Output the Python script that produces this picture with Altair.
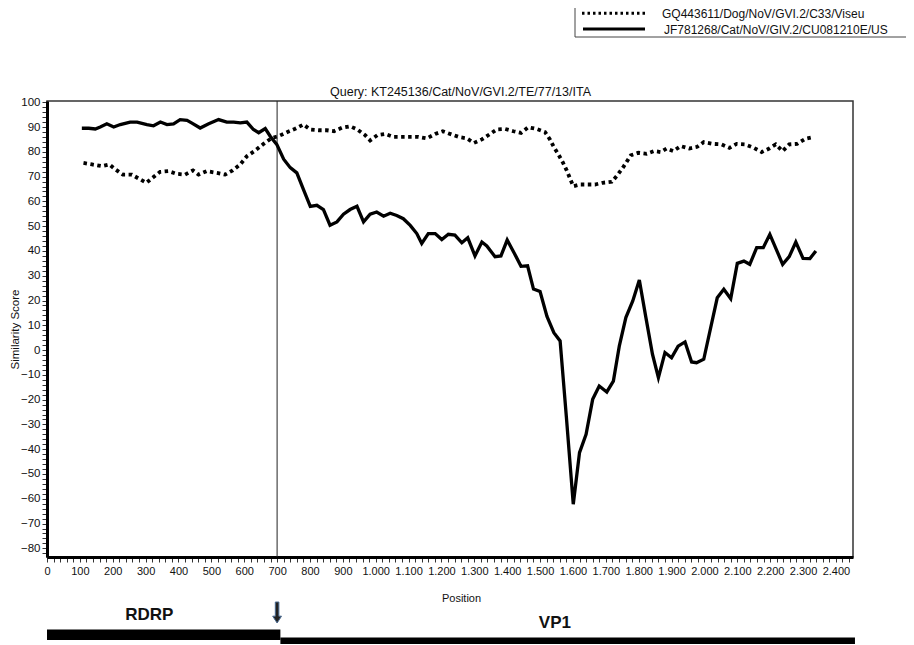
import altair as alt
import pandas as pd

FONT = "Liberation Sans"
title_text = "Query: KT245136/Cat/NoV/GVI.2/TE/77/13/ITA"
series_names = ["GQ443611/Dog/NoV/GVI.2/C33/Viseu", "JF781268/Cat/NoV/GIV.2/CU081210E/US"]

dog_pos = [111, 137, 167, 190, 208, 231, 258, 279, 302, 324, 344, 370, 395, 420, 444, 461, 486, 517, 542, 565,
           588, 608, 633, 659, 684, 704, 730, 755, 780, 801, 826, 851, 873, 897, 922, 944, 968, 983, 1005, 1029,
           1054, 1079, 1105, 1130, 1155, 1181, 1204, 1231, 1255, 1277, 1299, 1323, 1346, 1368, 1394, 1419, 1442,
           1464, 1490, 1515, 1530, 1542, 1556, 1569, 1581, 1601, 1622, 1647, 1667, 1690, 1718, 1733, 1753, 1776,
           1799, 1824, 1847, 1867, 1885, 1905, 1928, 1954, 1978, 1998, 2025, 2052, 2076, 2098, 2123, 2150, 2174,
           2197, 2217, 2238, 2258, 2282, 2306, 2331]
dog_score = [75.5, 74.9, 74.2, 74.9, 72.9, 70.8, 70.8, 69.2, 67.5, 69.8, 71.9, 72.2, 71.1, 70.8, 72.5, 70.8, 72.2,
             71.5, 70.8, 72.5, 74.9, 78.2, 80.5, 83.2, 85.6, 86.3, 87.9, 89.3, 91.0, 89.0, 88.7, 88.7, 88.3, 89.7,
             90.3, 89.0, 86.7, 84.6, 86.7, 87.2, 86.0, 86.0, 86.0, 86.0, 85.4, 87.2, 88.3, 87.0, 85.9, 85.4, 83.6,
             85.0, 87.0, 89.0, 89.2, 88.3, 87.6, 89.9, 89.2, 88.0, 85.0, 81.9, 78.9, 75.8, 72.5, 66.1, 66.8, 66.8,
             66.8, 67.5, 67.9, 70.2, 73.8, 78.6, 79.6, 79.2, 80.3, 79.9, 81.3, 80.3, 82.3, 81.3, 82.0, 83.9, 83.2,
             83.0, 81.6, 83.2, 83.0, 81.6, 79.9, 81.3, 83.0, 80.3, 83.0, 83.2, 85.2, 85.9]

cat_pos = [106, 127, 147, 162, 182, 203, 223, 253, 274, 304, 324, 345, 365, 385, 405, 426, 441, 466, 492, 522,
           547, 568, 588, 608, 628, 644, 664, 679, 699, 720, 740, 760, 780, 801, 821, 841, 861, 882, 902, 922,
           943, 963, 983, 1003, 1024, 1044, 1064, 1084, 1105, 1125, 1140, 1160, 1181, 1201, 1221, 1241, 1262,
           1280, 1302, 1323, 1338, 1363, 1381, 1400, 1422, 1442, 1462, 1480, 1500, 1521, 1542, 1561, 1580, 1601,
           1620, 1640, 1660, 1680, 1703, 1723, 1741, 1761, 1782, 1802, 1822, 1842, 1860, 1880, 1900, 1920, 1941,
           1961, 1976, 1998, 2039, 2059, 2080, 2100, 2120, 2138, 2159, 2179, 2199, 2238, 2258, 2278, 2300, 2321,
           2339]
cat_score = [89.5, 89.5, 89.2, 90.0, 91.3, 90.0, 91.0, 92.0, 92.0, 91.0, 90.5, 92.0, 91.0, 91.3, 93.0, 92.7, 91.6,
             89.6, 91.3, 93.0, 92.0, 92.0, 91.7, 92.0, 89.0, 87.7, 89.4, 86.3, 83.0, 77.0, 73.6, 71.5, 64.8, 58.0,
             58.4, 56.7, 50.4, 51.7, 54.8, 56.7, 58.0, 51.7, 54.8, 55.7, 54.0, 55.2, 54.3, 53.0, 50.3, 47.0, 43.0,
             47.0, 47.0, 44.6, 46.7, 46.4, 43.3, 45.3, 38.0, 43.6, 42.0, 37.7, 38.0, 44.4, 39.0, 33.8, 34.0, 24.6,
             23.6, 13.6, 7.0, 3.7, -27.0, -62.2, -41.4, -34.0, -19.9, -14.5, -16.9, -12.5, 1.6, 13.1, 19.8, 28.3,
             13.1, -1.7, -11.1, -1.0, -3.1, 1.6, 3.3, -4.8, -5.1, -3.7, 21.1, 24.5, 20.7, 35.0, 35.9, 34.6, 41.3,
             41.3, 46.7, 34.6, 37.7, 43.6, 37.0, 36.9, 40.0]

junction_pos = [700]
gene_names = ["RDRP", "VP1"]
gene_start = [0, 710]
gene_end = [710, 2458]
gene_label_pos = [311, 1545]

x_domain = [0, 2452]
y_domain = [-83.5, 100.5]
x_tick_values = list(range(0, 2441, 20))
y_tick_values = list(range(-82, 101, 2))

dog_df = pd.DataFrame({"pos": dog_pos, "score": dog_score})
cat_df = pd.DataFrame({"pos": cat_pos, "score": cat_score})
junction_df = pd.DataFrame({"pos": junction_pos})
bars_df = pd.DataFrame({"gene": gene_names, "pos": gene_start, "pos_end": gene_end})
labels_df = pd.DataFrame({"gene": gene_names, "pos": gene_label_pos})

xs = alt.Scale(domain=x_domain, nice=False, zero=False)
ys = alt.Scale(domain=y_domain, nice=False, zero=False)

x_axis = alt.Axis(
    title="Position", values=x_tick_values, tickCount=1000,
    labelExpr="datum.value % 100 == 0 ? replace(format(datum.value, ','), ',', '.') : ''",
    labelOverlap=False, labelFlush=False, labelBound=False,
    labelFontSize=11, labelPadding=3,
    titleFontSize=11, titlePadding=16, titleX=414,
)
y_axis = alt.Axis(
    title="Similarity Score", values=y_tick_values, tickCount=1000,
    labelExpr="datum.value % 10 == 0 ? datum.label : ''", format="d",
    labelOverlap=False, labelFlush=False, labelBound=False,
    labelFontSize=11.5, labelPadding=2,
    titleFontSize=11.5, titlePadding=0,
)

X = alt.X("pos:Q", scale=xs)
dog_line = alt.Chart(dog_df).mark_line(
    color="#000", strokeWidth=3.8, strokeDash=[3.5, 3.5], strokeCap="butt"
).encode(
    x=alt.X("pos:Q", scale=xs, axis=x_axis),
    y=alt.Y("score:Q", scale=ys, axis=y_axis),
)
cat_line = alt.Chart(cat_df).mark_line(color="#000", strokeWidth=3.3, strokeJoin="miter").encode(
    x=X, y=alt.Y("score:Q", scale=ys),
)
junction = alt.Chart(junction_df).mark_rule(color="#222", strokeWidth=1).encode(x=X)

# gene map below the plot
rdrp_bar = alt.Chart(bars_df[bars_df.gene == "RDRP"]).mark_rect(color="#000").encode(
    x=X, x2="pos_end:Q", y=alt.value(528.5), y2=alt.value(539),
)
vp1_bar = alt.Chart(bars_df[bars_df.gene == "VP1"]).mark_rect(color="#000").encode(
    x=X, x2="pos_end:Q", y=alt.value(536.5), y2=alt.value(543),
)
rdrp_text = alt.Chart(labels_df[labels_df.gene == "RDRP"]).mark_text(
    font=FONT, fontSize=17, fontWeight="bold", color="#111", baseline="middle", align="center"
).encode(x=X, y=alt.value(513.5), text="gene:N")
vp1_text = alt.Chart(labels_df[labels_df.gene == "VP1"]).mark_text(
    font=FONT, fontSize=17, fontWeight="bold", color="#111", baseline="middle", align="center"
).encode(x=X, y=alt.value(521.5), text="gene:N")

arrow_path = "M-0.17,-1 L0.17,-1 L0.17,0.35 L0.42,0.35 L0,1 L-0.42,0.35 L-0.17,0.35 Z"
arrow = alt.Chart(junction_df).mark_point(
    shape=arrow_path, size=441, filled=True, fill="#222", stroke="#4a6a90", strokeWidth=1, opacity=1
).encode(x=X, y=alt.value(511.5))

# chart title drawn as text above the plot
title_df = pd.DataFrame({"t": [title_text]})
title_mark = alt.Chart(title_df).mark_text(
    font=FONT, fontSize=12.5, color="#111", align="center", baseline="middle"
).encode(x=alt.value(413.5), y=alt.value(-9), text="t:N")

# legend box (top right)
one = pd.DataFrame({"k": [0]})
leg_box = alt.Chart(one).mark_rect(fill="#fff", stroke="#444", strokeWidth=1).encode(
    x=alt.value(528), x2=alt.value(880), y=alt.value(-96), y2=alt.value(-64)
)
leg_dot = alt.Chart(one).mark_rule(color="#000", strokeWidth=3, strokeDash=[2.5, 3], strokeCap="butt").encode(
    x=alt.value(535), x2=alt.value(598), y=alt.value(-87.7)
)
leg_solid = alt.Chart(one).mark_rule(color="#000", strokeWidth=3).encode(
    x=alt.value(536), x2=alt.value(598), y=alt.value(-72)
)
leg_df = pd.DataFrame({"name": series_names})
leg_t1 = alt.Chart(leg_df.iloc[[0]]).mark_text(
    font=FONT, fontSize=12, color="#111", align="left", baseline="middle"
).encode(x=alt.value(615), y=alt.value(-87.5), text="name:N")
leg_t2 = alt.Chart(leg_df.iloc[[1]]).mark_text(
    font=FONT, fontSize=12, color="#111", align="left", baseline="middle"
).encode(x=alt.value(617), y=alt.value(-71.5), text="name:N")

chart = alt.layer(
    dog_line, junction, cat_line, rdrp_bar, vp1_bar, rdrp_text, vp1_text, arrow,
    title_mark, leg_box, leg_dot, leg_solid, leg_t1, leg_t2,
).properties(
    width=806, height=456,
    autosize=alt.AutoSizeParams(type="none"),
    padding={"left": 39, "top": 93, "right": 53, "bottom": 88},
).configure(
    background="#ffffff"
).configure_view(
    stroke="#333", strokeWidth=1.5
).configure_axis(
    domainWidth=3, domainColor="#000", tickSize=5, tickWidth=1, tickColor="#333",
    labelFont=FONT, labelColor="#111", titleFont=FONT, titleFontWeight="normal",
    titleColor="#111", grid=False, labelOverlap=False,
)

chart.save("out.html", embed_options={"renderer": "svg", "actions": False})
